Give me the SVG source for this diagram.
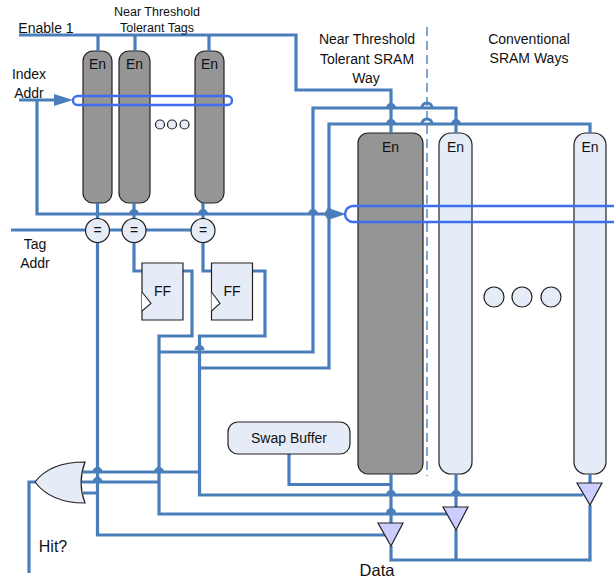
<svg xmlns="http://www.w3.org/2000/svg" width="614" height="581" viewBox="0 0 614 581">
<style>
text{font-family:"Liberation Sans",Arial,sans-serif;fill:#111;text-anchor:middle}
.t{font-size:14px}.s{font-size:12.5px}.e{font-size:14.5px}
.w{fill:none;stroke:#4a7ebb;stroke-width:3.2;stroke-linejoin:miter}
.d{fill:#959595;stroke:#222;stroke-width:1.2}
.l{fill:#e6ecf7;stroke:#222;stroke-width:1.2}
.r{fill:none;stroke:#3c6eef;stroke-width:2.4}
.m{fill:#ccccff;stroke:#222;stroke-width:1.2}
.a{fill:#4a7ebb}
</style>
<path d="M427 27V476" fill="none" stroke="#4a7ebb" stroke-width="1.4" stroke-dasharray="9 5"/>
<g id="tag1"><rect class="d" x="83" y="51" width="29" height="152" rx="10"/><text class="t" x="97.500" y="69">En</text></g>
<g id="tag2"><rect class="d" x="119" y="51" width="31" height="152" rx="10"/><text class="t" x="134.500" y="69">En</text></g>
<g id="tag3"><rect class="d" x="195" y="51" width="29" height="152" rx="10"/><text class="t" x="209.500" y="69">En</text></g>
<g id="way0"><rect class="d" x="358" y="133" width="65" height="341" rx="10"/><text class="t" x="390.500" y="152">En</text></g>
<g id="way1"><rect class="l" x="439" y="133" width="33" height="341" rx="12"/><text class="t" x="455.500" y="152">En</text></g>
<g id="way2"><rect class="l" x="574" y="133" width="32" height="341" rx="12"/><text class="t" x="590" y="152">En</text></g>
<g id="connectors">
<path class="w" d="M19 35H296V90H391V133"/>
<path class="w" d="M98 35V51M135 35V51M209 35V51"/>
<path class="w" d="M19 100H56"/><path class="a" d="M54 94L73 100L54 106Z"/>
<path class="w" d="M37 100V214H330"/><path class="a" d="M328 208L346 214L328 220Z"/>
<path class="w" d="M97.500 203V219M134 203V219M203 203V219"/>
<path class="a" d="M129 214A5 5 0 0 1 139 214ZM198 214A5 5 0 0 1 208 214ZM308 214A5 5 0 0 1 318 214ZM324 214L329 206L334 214L329 221Z"/>
<path class="w" d="M11 230H191"/>
<path class="w" d="M97.500 242V535H385"/>
<path class="w" d="M134 242V271H143M203 242V271H212"/>
<path class="w" d="M183 271H192V336H159V514H450"/>
<path class="w" d="M252 271H265V336H199.500V495H583"/>
<path class="w" d="M159 352H313V108H456V133"/>
<path class="w" d="M199.500 368H329V124H590V133"/>
<path class="a" d="M386 108A5 5 0 0 1 396 108ZM386 124A5 5 0 0 1 396 124ZM451 124A5 5 0 0 1 461 124ZM194.500 350A5 5 0 0 1 204.500 350Z"/>
<path class="w" d="M422 108A5 5 0 0 1 432 108M422 124A5 5 0 0 1 432 124" stroke-width="2"/>
<path class="w" d="M83 472H199.500M81 482H159M83 493H97.500"/>
<path class="w" d="M29 573V482H37"/>
<path class="a" d="M92.500 472A5 5 0 0 1 102.500 472ZM92.500 482A5 5 0 0 1 102.500 482ZM154 472A5 5 0 0 1 164 472Z"/>
<path class="w" d="M289 454V484.500H391"/>
<path class="w" d="M391 474V523M456 474V507M590 474V483"/>
<path class="a" d="M386 495A5 5 0 0 1 396 495ZM386 513A5 5 0 0 1 396 513ZM451 495A5 5 0 0 1 461 495Z"/>
<path class="w" d="M391 546V560H590V505M456 530V560"/>
</g>
<g id="row-tags"><rect class="r" x="73" y="96" width="159" height="9" rx="4.500"/></g>
<g id="row-ways"><path class="r" d="M618 206H353A8 8 0 0 0 353 222H618"/></g>
<g id="dots-tags"><circle class="l" cx="160" cy="124.500" r="4.500"/><circle class="l" cx="172" cy="124.500" r="4.500"/><circle class="l" cx="184.500" cy="124.500" r="4.500"/></g>
<g id="dots-ways"><circle class="l" cx="494" cy="297" r="10"/><circle class="l" cx="522" cy="297" r="10"/><circle class="l" cx="551" cy="297" r="10"/></g>
<g id="cmp1"><circle class="l" cx="97.500" cy="230.500" r="12"/><text class="t" x="97.500" y="235">=</text></g>
<g id="cmp2"><circle class="l" cx="134" cy="230.500" r="12"/><text class="t" x="134" y="235">=</text></g>
<g id="cmp3"><circle class="l" cx="203" cy="230.500" r="12"/><text class="t" x="203" y="235">=</text></g>
<g id="ff1"><path class="l" d="M142 263H183V320H142Z"/><path d="M142 292L151 303.500L142 311" fill="#fff" stroke="#222" stroke-width="1.1"/><text class="t" x="162.500" y="296">FF</text></g>
<g id="ff2"><path class="l" d="M211.500 263H252.500V320H211.500Z"/><path d="M211.500 292L220 303.500L211.500 311" fill="#fff" stroke="#222" stroke-width="1.1"/><text class="t" x="232" y="296">FF</text></g>
<g id="or"><path class="l" d="M35 482C44 470 58 462 85 462C80 475 80 490 85 503C58 503 44 494 35 482Z"/></g>
<g id="swap"><rect class="l" x="228" y="422" width="122" height="32" rx="10"/><text class="t" x="289" y="443">Swap Buffer</text></g>
<g id="mux1"><path class="m" d="M378 523H403L391 546Z"/></g>
<g id="mux2"><path class="m" d="M443 507H468L456 530Z"/></g>
<g id="mux3"><path class="m" d="M577 483H602L590 505Z"/></g>
<g id="labels">
<text class="t" x="46" y="33">Enable 1</text>
<text class="s" x="157" y="16">Near Threshold</text>
<text class="s" x="157" y="32">Tolerant Tags</text>
<text class="t" x="29" y="79">Index</text>
<text class="t" x="29" y="98">Addr</text>
<text class="t" x="35" y="249">Tag</text>
<text class="t" x="35" y="268">Addr</text>
<text class="t" x="367" y="44">Near Threshold</text>
<text class="t" x="367" y="64">Tolerant SRAM</text>
<text class="t" x="366" y="83">Way</text>
<text class="t" x="529" y="44">Conventional</text>
<text class="t" x="529" y="63">SRAM Ways</text>
<text x="53" y="552" font-size="16">Hit?</text>
<text x="377" y="576" font-size="16.500">Data</text>
</g>
</svg>
